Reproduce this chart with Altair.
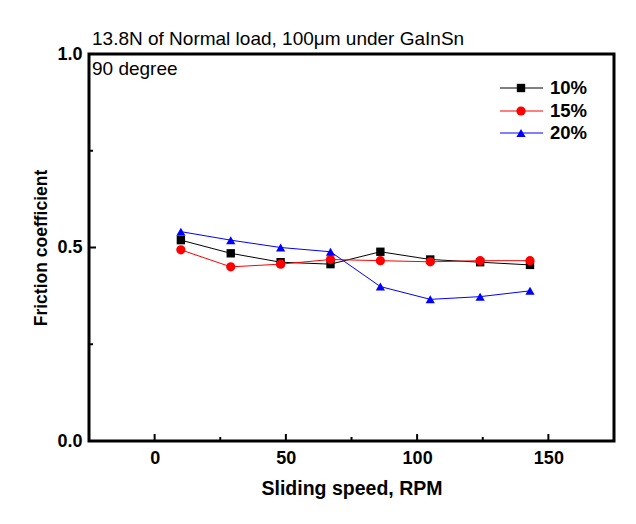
import altair as alt
import pandas as pd

speeds = [10, 29, 48, 67, 86, 105, 124, 143]
s10 = [0.519, 0.485, 0.462, 0.457, 0.489, 0.469, 0.462, 0.455]
s15 = [0.494, 0.450, 0.457, 0.469, 0.466, 0.463, 0.466, 0.466]
s20 = [0.541, 0.519, 0.500, 0.489, 0.399, 0.366, 0.373, 0.388]
series_names = ["10%", "15%", "20%"]
series_colors = ["black", "red", "blue"]
series_shapes = ["square", "circle", "triangle-up"]
series_sizes = [70, 85, 85]
x_major = [0, 50, 100, 150]
x_minor = [25, 75, 125]
y_major = [0.0, 0.5, 1.0]
y_minor = [0.25, 0.75]

W, H = 525, 387
FONT = "Liberation Sans"

rows = []
for name, vals in zip(series_names, [s10, s15, s20]):
    for s, v in zip(speeds, vals):
        rows.append({"speed": s, "mu": v, "series": name})
df = pd.DataFrame(rows)

xs = alt.Scale(domain=[-25, 175], nice=False, zero=False)
ys = alt.Scale(domain=[0, 1], nice=False)

xax = alt.Axis(values=x_major, format="d", tickSize=0, domain=False,
               grid=False, labelFont=FONT, labelFontSize=18,
               labelFontWeight="bold", labelColor="black", labelPadding=8,
               title="Sliding speed, RPM", titleFont=FONT, titleFontSize=19.5,
               titleFontWeight="bold", titleColor="black", titlePadding=12)
yax = alt.Axis(values=y_major, format=".1f", tickSize=0, domain=False,
               grid=False, labelFont=FONT, labelFontSize=18,
               labelFontWeight="bold", labelColor="black", labelPadding=7,
               title="Friction coefficient", titleFont=FONT, titleFontSize=17.5,
               titleFontWeight="bold", titleColor="black", titlePadding=6)

layers = []
for name, col, shp, sz in zip(series_names, series_colors, series_shapes, series_sizes):
    sub = df[df.series == name]
    base = alt.Chart(sub).encode(
        x=alt.X("speed:Q", scale=xs, axis=xax),
        y=alt.Y("mu:Q", scale=ys, axis=yax),
    )
    layers.append(base.mark_line(color=col, strokeWidth=1))
    layers.append(base.mark_point(shape=shp, filled=True, color=col, size=sz, opacity=1))

# inward ticks
tx_major = alt.Chart(pd.DataFrame({"speed": x_major})).mark_rule(color="black", strokeWidth=2).encode(
    x=alt.X("speed:Q", scale=xs, axis=xax), y=alt.value(H), y2=alt.value(H - 7))
tx_minor = alt.Chart(pd.DataFrame({"speed": x_minor})).mark_rule(color="black", strokeWidth=2).encode(
    x=alt.X("speed:Q", scale=xs, axis=xax), y=alt.value(H), y2=alt.value(H - 4))
ty_major = alt.Chart(pd.DataFrame({"mu": y_major})).mark_rule(color="black", strokeWidth=2).encode(
    y=alt.Y("mu:Q", scale=ys, axis=yax), x=alt.value(0), x2=alt.value(7))
ty_minor = alt.Chart(pd.DataFrame({"mu": y_minor})).mark_rule(color="black", strokeWidth=2).encode(
    y=alt.Y("mu:Q", scale=ys, axis=yax), x=alt.value(0), x2=alt.value(4))

frame = alt.Chart(pd.DataFrame({"f": [0]})).mark_rect(fill=None, stroke="black", strokeWidth=3).encode(
    x=alt.value(0), x2=alt.value(W), y=alt.value(0), y2=alt.value(H))

# legend (pixel y positions inside the plot area)
leg = pd.DataFrame({"series": series_names, "ly": [34, 57, 79]})
leg_layers = []
for name, col, shp, sz in zip(series_names, series_colors, series_shapes, series_sizes):
    sub = leg[leg.series == name]
    leg_layers.append(alt.Chart(sub).mark_rule(color=col, strokeWidth=1).encode(
        x=alt.value(411), x2=alt.value(454), y=alt.Y("ly:Q", scale=None, axis=yax)))
    leg_layers.append(alt.Chart(sub).mark_point(shape=shp, filled=True, color=col, size=sz, opacity=1).encode(
        x=alt.value(432), y=alt.Y("ly:Q", scale=None, axis=yax)))
    leg_layers.append(alt.Chart(sub).mark_text(align="left", baseline="middle", font=FONT,
                                               fontSize=18.5, fontWeight="bold", color="black").encode(
        x=alt.value(461), y=alt.Y("ly:Q", scale=None, axis=yax), text="series:N"))

title_txt = alt.Chart(pd.DataFrame({"t": ["13.8N of Normal load, 100μm under GaInSn"]})).mark_text(
    align="left", baseline="alphabetic", font=FONT, fontSize=19, color="black").encode(
    x=alt.value(3), y=alt.value(-9), text="t:N")
deg_txt = alt.Chart(pd.DataFrame({"t": ["90 degree"]})).mark_text(
    align="left", baseline="alphabetic", font=FONT, fontSize=19, color="black").encode(
    x=alt.value(3), y=alt.value(21), text="t:N")

chart = alt.layer(*layers, tx_major, tx_minor, ty_major, ty_minor, frame, *leg_layers,
                  title_txt, deg_txt).properties(
    width=W, height=H,
    autosize=alt.AutoSizeParams(type="none"),
    padding={"left": 81, "top": 46, "right": 14, "bottom": 75},
).configure_view(stroke=None).configure(background="white")

chart.save("out.html", embed_options={"renderer": "svg", "actions": False})
